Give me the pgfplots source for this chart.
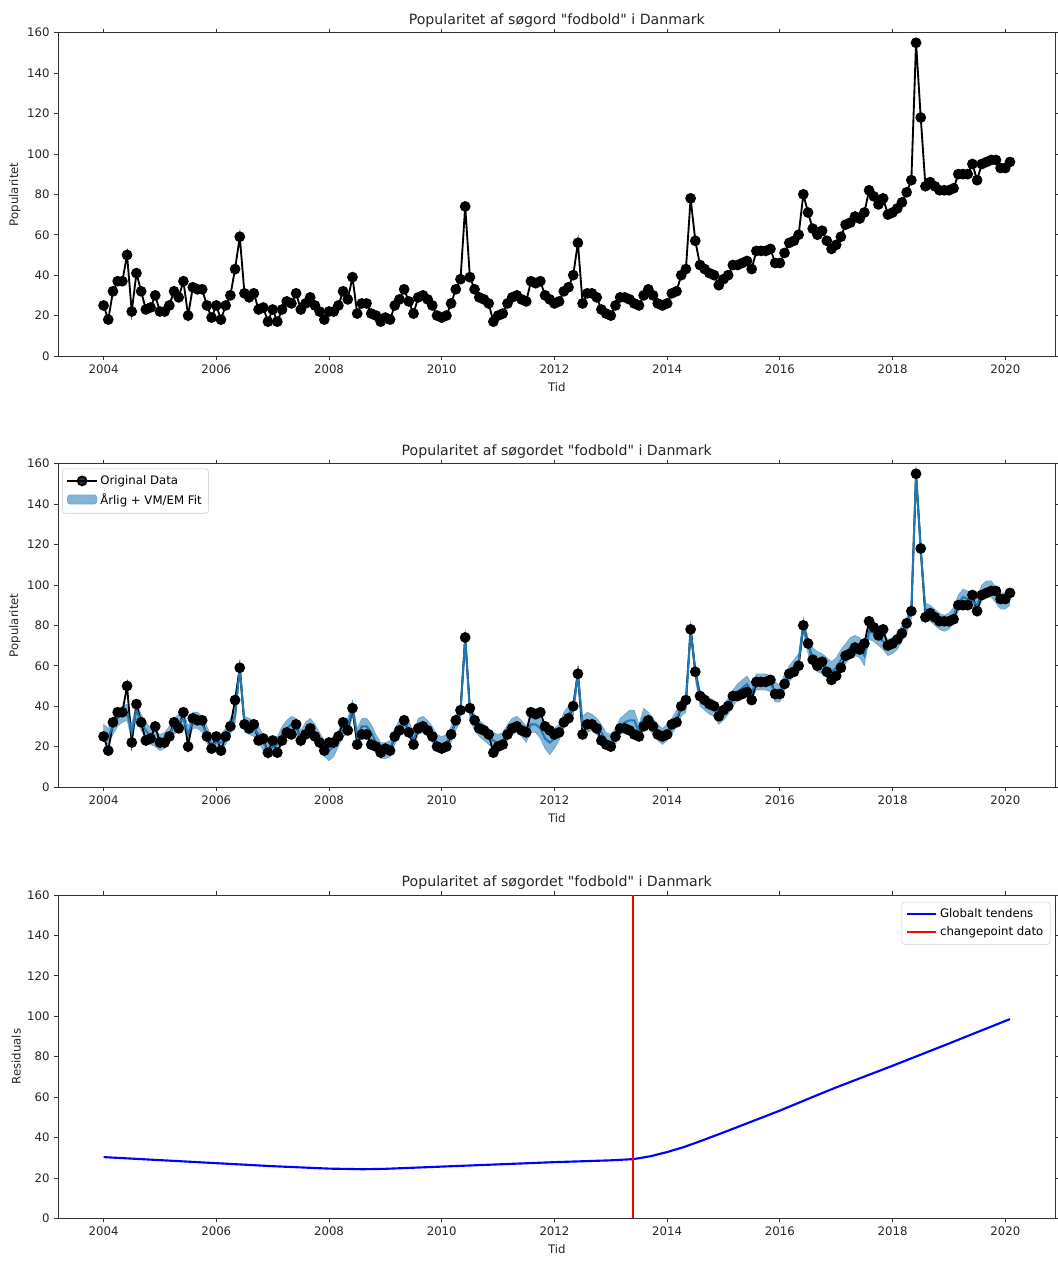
\documentclass[border=0pt]{standalone}
\usepackage{fontspec}
\setmainfont{DejaVu Sans}[Ligatures=TeXOff]
\usepackage{pgfplots}
\usepackage{pgfplotstable}
\pgfplotsset{compat=1.18}
\usepgfplotslibrary{fillbetween}

\definecolor{mplblue}{HTML}{1F77B4}
\definecolor{pureblue}{HTML}{0000FF}
\definecolor{purered}{HTML}{FF0000}

% Monthly search popularity from 2004-01 (one row per month):
% d = observed value, f = fitted value, w = half width of the fit band
\pgfplotstableread{
d f w
25 27 4
18 25 4
32 30 4
37 34 4
37 36 4
50 37 4
22 27 4
41 38 4
32 32 4
23 28 4
24 25 4
30 24 4
22 22 4
22 23 4
25 26 4
32 30 4
29 32 4
37 34 4
20 26 4
34 33 4
33 33 4
33 31 4
25 26 4
19 21 4
25 22 4
18 22 4
25 25 4
30 30 4
43 35 4
59 59 4
31 31 4
29 30 4
31 29 4
23 26 4
24 22 4
17 18 4
23 20 4
17 21 4
23 26 4
27 29 4
26 31 4
31 30 4
23 24 4
26 28 4
29 30 4
25 27 4
22 23 4
18 19 4
22 18 5
22 20 5
25 24 4
32 29 4
28 30 4
39 39 4
21 25 4
26 30 4
26 30 4
21 27 4
20 22 4
17 18 4
19 18 4
18 19 4
25 25 4
28 29 4
33 31 4
27 29 4
21 23 4
29 30 4
30 31 4
28 29 4
25 26 4
20 22 4
19 21 4
20 22 4
26 26 4
33 32 4
38 37 4
74 74 4
39 37 4
33 32 4
29 29 4
28 27 4
26 25 4
17 23 4
20 22 4
21 23 4
26 27 4
29 30 4
30 31 4
28 29 4
27 26 4
37 31 4
36 31 4
37 29 5
30 24 5
28 22 6
26 24 5
27 27 4
32 33 4
34 36 4
40 39 4
56 56 4
26 30 5
31 32 5
31 32 4
29 30 4
23 27 4
21 23 4
20 22 4
25 25 4
29 30 4
29 32 4
28 33 5
26 33 5
25 27 4
30 34 5
33 33 4
30 30 4
26 27 4
25 25 4
26 27 4
31 30 4
32 34 4
40 39 4
43 41 4
78 78 4
57 57 4
45 44 4
43 42 4
41 40 4
40 39 4
35 35 4
38 37 4
40 40 4
45 44 4
45 47 4
46 49 4
47 51 4
43 47 4
52 52 4
52 52 4
52 52 4
53 51 4
46 47 5
46 46 4
51 52 4
56 56 4
57 59 4
60 62 4
80 80 4
71 70 4
63 64 5
60 62 5
62 61 5
57 59 5
53 57 5
55 59 5
59 63 5
65 66 5
66 69 5
69 70 5
68 69 5
71 65 5
82 77 4
79 76 4
75 74 4
78 72 4
70 69 4
71 70 4
73 72 4
76 76 4
81 80 4
87 87 4
155 155 4
118 117 4
84 87 4
86 86 4
84 84 4
82 82 4
82 81 4
82 82 4
83 85 4
90 91 4
90 94 4
90 93 4
95 92 4
87 90 4
95 96 4
96 98 4
97 98 4
97 95 4
93 92 4
93 92 4
96 94 4
}\popdata

% Global trend component
\pgfplotstableread{
t g
2004.00 30.3
2005.00 28.8
2006.00 27.3
2007.00 25.8
2008.00 24.6
2008.60 24.3
2009.00 24.5
2010.00 25.6
2011.00 26.7
2012.00 27.8
2013.00 28.7
2013.40 29.3
2013.70 30.7
2014.00 32.8
2014.30 35.3
2014.60 38.3
2015.00 42.5
2015.50 47.9
2016.00 53.3
2016.50 59.1
2017.00 64.8
2018.00 75.5
2019.00 86.5
2020.083 98.6
}\trend

% Changepoint date
\pgfplotstableread{
t y
2013.40 0
2013.40 160
}\changept

\pgfplotsset{
  panel/.style={
    width=747.75pt, height=242.5pt, scale only axis,
    xmin=2003.196, xmax=2020.887, ymin=0, ymax=160,
    xtick={2004,2006,...,2020}, ytick={0,20,...,160},
    scaled ticks=false,
    tick align=outside, major tick length=3pt,
    tick style={black!80, line width=0.6pt},
    axis line style={black!80, line width=0.6pt},
    /pgf/number format/assume math mode=true,
    /pgf/number format/1000 sep={},
    tick label style={font=\fontsize{8.8}{10}\selectfont, text=black!85},
    label style={font=\fontsize{8.8}{10}\selectfont, text=black!85},
    ylabel style={yshift=-2pt},
    title style={font=\fontsize{10.6}{12}\selectfont, text=black!85, yshift=-5.5pt},
    xlabel=Tid,
    legend style={font=\fontsize{8.8}{10}\selectfont, draw=black!20,
      rounded corners=2pt, fill=white, fill opacity=0.8, text opacity=1,
      row sep=1.5pt, inner sep=3pt},
    legend cell align=left,
    enlargelimits=false,
  },
  longline/.style={legend image code/.code={
    \draw[mark repeat=2, mark phase=2, ##1] plot coordinates {(0pt,0pt) (11pt,0pt) (22pt,0pt)};}},
  longpatch/.style={legend image code/.code={
    \path[##1] (0pt,-3pt) rectangle (22pt,4pt);}},
  obs/.style={black, line width=1.4pt, mark=*, mark size=3.3pt},
}

\begin{document}
\begin{tikzpicture}

% Panel 1: observed series
\begin{axis}[panel, at={(43.7pt,680.25pt)}, anchor=south west,
  title={Popularitet af søgord "fodbold" i Danmark}, ylabel={Popularitet}]
\addplot[obs] table[x expr=2004+\coordindex/12, y=d]{\popdata};
\end{axis}

% Panel 2: observed series with the seasonal + tournament fit
\begin{axis}[panel, at={(43.7pt,357pt)}, anchor=south west,
  title={Popularitet af søgordet "fodbold" i Danmark}, ylabel={Popularitet},
  legend style={at={(0.004,0.985)}, anchor=north west}]
\addplot[obs, longline] table[x expr=2004+\coordindex/12, y=d]{\popdata};
\addlegendentry{Original Data}
\addplot[name path=up, draw=none, forget plot]
  table[x expr=2004+\coordindex/12, y expr=\thisrow{f}+\thisrow{w}]{\popdata};
\addplot[name path=lo, draw=none, forget plot]
  table[x expr=2004+\coordindex/12, y expr=\thisrow{f}-\thisrow{w}]{\popdata};
\addplot[fill=mplblue, fill opacity=0.55, draw=mplblue, draw opacity=0.5, longpatch]
  fill between[of=up and lo];
\addlegendentry{Årlig + VM/EM Fit}
\addplot[mplblue, line width=1.5pt, forget plot]
  table[x expr=2004+\coordindex/12, y=f]{\popdata};
\end{axis}

% Panel 3: global trend and changepoint
\begin{axis}[panel, at={(43.7pt,33.5pt)}, anchor=south west,
  title={Popularitet af søgordet "fodbold" i Danmark}, ylabel={Residuals},
  legend style={at={(0.995,0.979)}, anchor=north east}]
\addplot[draw=pureblue, line width=1.6pt, longline] table[x=t, y=g]{\trend};
\addlegendentry{Globalt tendens}
\addplot[draw=purered, line width=1.5pt, longline] table[x=t, y=y]{\changept};
\addlegendentry{changepoint dato}
\end{axis}

% fixed page frame
\pgfresetboundingbox
\useasboundingbox (0,0) rectangle (792.75pt,947.25pt);
\end{tikzpicture}
\end{document}
